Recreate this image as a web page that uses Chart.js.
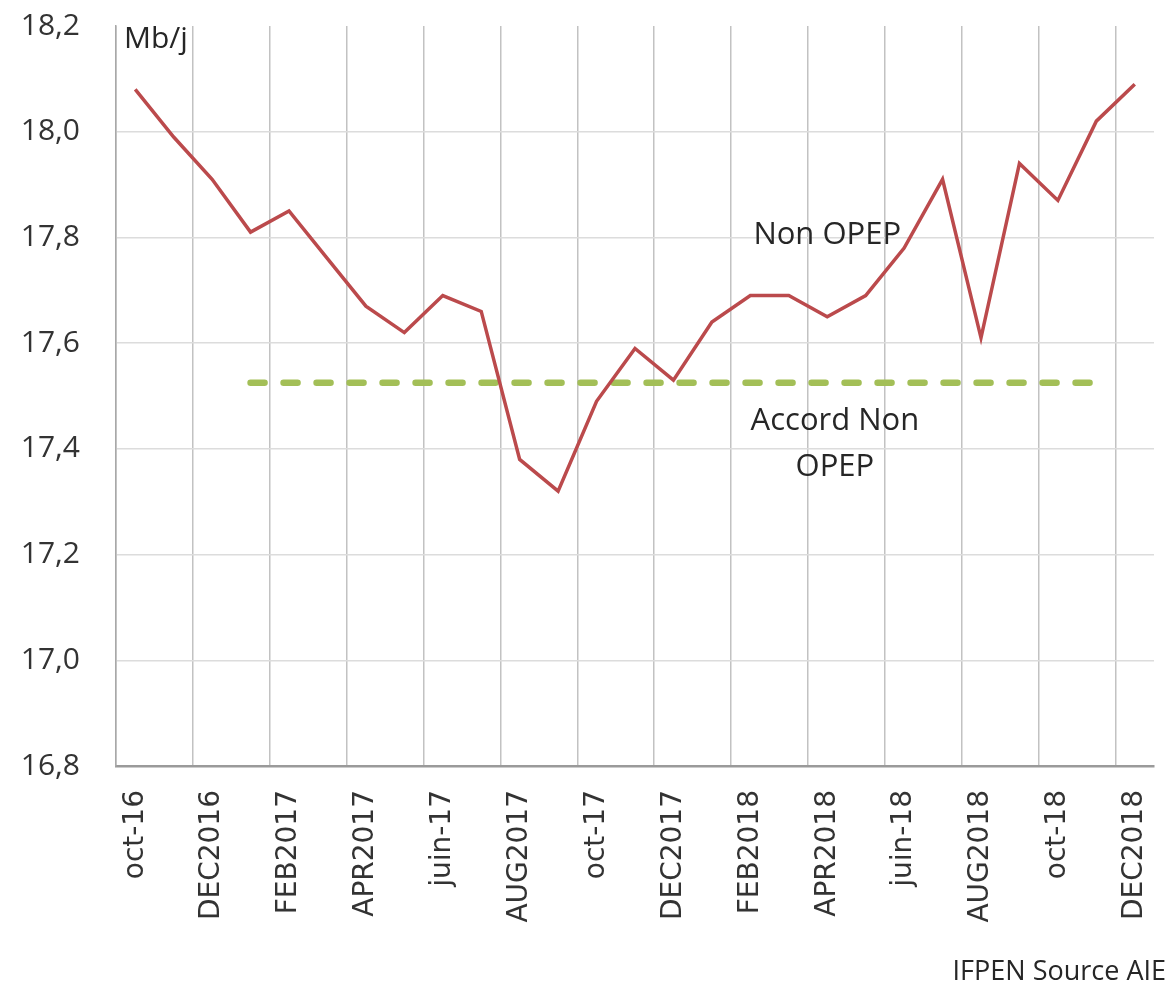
<!DOCTYPE html>
<html>
<head>
<meta charset="utf-8">
<script src="https://cdn.jsdelivr.net/npm/chart.js@4.4.1/dist/chart.umd.min.js"></script>
<style>
  html, body { margin: 0; padding: 0; background: #fff; }
</style>
</head>
<body>
<canvas id="chart" width="1175" height="994"></canvas>
<script>
// monthly production, oct 2016 -> dec 2018 (every other month is labelled)
const months = [
    'oct-16', 'nov-16', 'DEC2016', 'janv-17', 'FEB2017', 'mars-17', 'APR2017',
    'mai-17', 'juin-17', 'juil-17', 'AUG2017', 'sept-17', 'oct-17', 'nov-17',
    'DEC2017', 'janv-18', 'FEB2018', 'mars-18', 'APR2018', 'mai-18', 'juin-18',
    'juil-18', 'AUG2018', 'sept-18', 'oct-18', 'nov-18', 'DEC2018'
];
const nonOpep = [
    18.08, 17.99, 17.91, 17.81, 17.85, 17.76, 17.67,
    17.62, 17.69, 17.66, 17.38, 17.32, 17.49, 17.59,
    17.53, 17.64, 17.69, 17.69, 17.65, 17.69, 17.78,
    17.91, 17.61, 17.94, 17.87, 18.02, 18.09
];
const accordNonOpep = [
    null, null, null, 17.525, 17.525, 17.525, 17.525,
    17.525, 17.525, 17.525, 17.525, 17.525, 17.525, 17.525,
    17.525, 17.525, 17.525, 17.525, 17.525, 17.525, 17.525,
    17.525, 17.525, 17.525, 17.525, 17.525, null
];
const yMin = 16.8;
const yMax = 18.2;
const yStep = 0.2;

// text labels placed in data units (category index, value)
const notes = [
    { text: 'Non OPEP', x: 18.0, y: 17.805 },
    { text: 'Accord Non', x: 18.2, y: 17.453 },
    { text: 'OPEP', x: 18.2, y: 17.366 }
];

const textPlugin = {
    id: 'texts',
    afterDraw(chart) {
        const ctx = chart.ctx;
        const xs = chart.scales.x;
        const ys = chart.scales.y;
        const area = chart.chartArea;
        ctx.save();
        ctx.fillStyle = '#262626';
        ctx.textBaseline = 'middle';

        ctx.font = '31px "Open Sans"';
        ctx.textAlign = 'center';
        notes.forEach(function(n) {
            ctx.fillText(n.text, xs.getPixelForValue(n.x), ys.getPixelForValue(n.y));
        });

        ctx.textAlign = 'left';
        ctx.font = '30px "Open Sans"';
        ctx.fillText('Mb/j', area.left + 8, area.top + 13);

        ctx.textAlign = 'right';
        ctx.font = '27px "Open Sans"';
        ctx.fillText('IFPEN Source AIE', chart.width - 9, chart.height - 22);
        ctx.restore();
    }
};

const data = {
    labels: months,
    datasets: [{
        label: 'Non OPEP',
        data: nonOpep,
        borderColor: '#bb4a4c',
        borderWidth: 3.5,
        pointRadius: 0,
        tension: 0,
        order: 1
    }, {
        label: 'Accord Non OPEP',
        data: accordNonOpep,
        borderColor: '#a3bf57',
        borderWidth: 6.5,
        borderDash: [14, 19],
        borderCapStyle: 'round',
        pointRadius: 0,
        spanGaps: false,
        order: 2
    }]
};

const config = {
    type: 'line',
    data: data,
    plugins: [textPlugin],
    options: {
        responsive: false,
        animation: false,
        devicePixelRatio: 1,
        layout: {
            padding: { left: 0, top: 26, right: 21, bottom: 0 }
        },
        plugins: {
            legend: { display: false },
            tooltip: { enabled: false }
        },
        scales: {
            x: {
                offset: true,
                afterFit: function(scale) {
                    scale.height = 228;
                    scale.paddingLeft = 0;
                    scale.paddingRight = 0;
                },
                grid: {
                    offset: true,
                    drawTicks: false,
                    lineWidth: 1.5,
                    color: function(c) {
                        return c.index % 2 === 0 ? '#c2c2c2' : 'rgba(0,0,0,0)';
                    }
                },
                border: { color: '#9a9a9a', width: 2.5 },
                ticks: {
                    autoSkip: false,
                    minRotation: 90,
                    maxRotation: 90,
                    padding: 24,
                    color: '#333333',
                    font: { family: '"DejaVu Sans"', size: 28 },
                    callback: function(value, index) {
                        return index % 2 === 0 ? this.getLabelForValue(value) : '';
                    }
                }
            },
            y: {
                min: yMin,
                max: yMax,
                afterFit: function(scale) {
                    scale.width = 116;
                    scale.paddingTop = 0;
                    scale.paddingBottom = 0;
                },
                grid: {
                    drawTicks: false,
                    lineWidth: 1.5,
                    color: function(c) {
                        return c.tick && c.tick.value > yMax - 0.01 ? 'rgba(0,0,0,0)' : '#dcdcdc';
                    }
                },
                border: { color: '#a8a8a8', width: 1.5 },
                ticks: {
                    stepSize: yStep,
                    padding: 36,
                    color: '#333333',
                    font: { family: '"Open Sans"', size: 30 },
                    callback: function(value) {
                        return value.toFixed(1).replace('.', ',');
                    }
                }
            }
        }
    }
};

Promise.all([
    document.fonts.load('30px "Open Sans"'),
    document.fonts.load('28px "DejaVu Sans"')
]).finally(function() {
    new Chart(document.getElementById('chart'), config);
});
</script>
</body>
</html>
